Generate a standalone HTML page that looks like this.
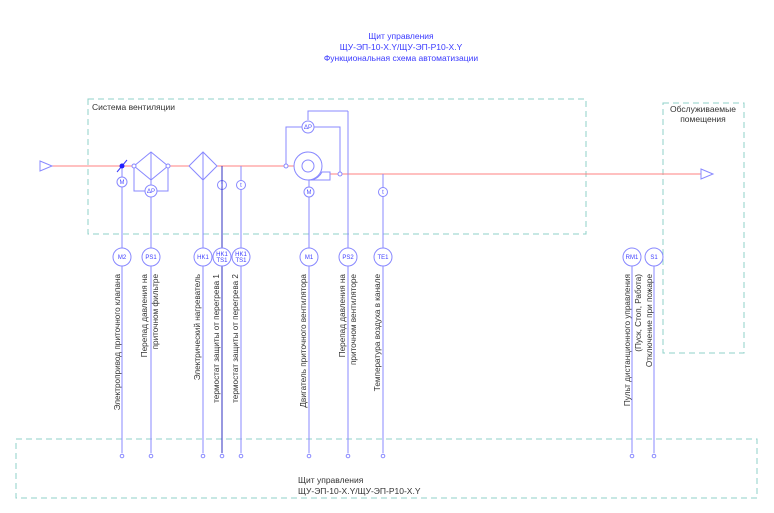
<!DOCTYPE html>
<html><head><meta charset="utf-8"><style>body{margin:0;background:#fff}svg{display:block}</style></head><body>
<svg width="774" height="513" xmlns="http://www.w3.org/2000/svg" font-family="Liberation Sans, DejaVu Sans, sans-serif">
<g fill="#3a3aff" font-size="8.5" text-anchor="middle">
<text x="401" y="39">Щит управления</text>
<text x="401" y="50">ЩУ-ЭП-10-X.Y/ЩУ-ЭП-P10-X.Y</text>
<text x="401" y="61">Функциональная схема автоматизации</text>
</g>
<g fill="none" stroke="#8fd0c8" stroke-dasharray="6,4" stroke-width="1">
<rect x="88" y="99" width="498" height="135"/>
<rect x="663" y="103" width="81" height="250"/>
<rect x="16" y="439" width="741" height="59"/>
</g>
<g font-size="8.5" fill="#333">
<text x="92" y="110">Система вентиляции</text>
<text x="703" y="112" text-anchor="middle">Обслуживаемые</text>
<text x="703" y="122" text-anchor="middle">помещения</text>
<text x="298" y="483">Щит управления</text>
<text x="298" y="494">ЩУ-ЭП-10-X.Y/ЩУ-ЭП-P10-X.Y</text>
</g>
<g stroke="#ff8080" stroke-width="1" fill="none">
<line x1="40" y1="166" x2="300" y2="166"/>
<line x1="328" y1="174" x2="702" y2="174"/>
</g>
<g stroke="#8888ff" stroke-width="1" fill="#fff">
<polygon points="40,161 52,166 40,171"/>
<polygon points="701,169 713,174 701,179"/>
<line x1="122" y1="166" x2="122" y2="453"/>
<line x1="151" y1="180" x2="151" y2="453"/>
<line x1="203" y1="180" x2="203" y2="453"/>
<line x1="241" y1="166" x2="241" y2="453"/>
<line x1="309" y1="180" x2="309" y2="453"/>
<line x1="348" y1="111" x2="348" y2="453"/>
<line x1="383" y1="174" x2="383" y2="453"/>
<line x1="632" y1="266" x2="632" y2="453"/>
<line x1="654" y1="266" x2="654" y2="453"/>
<polygon points="134,166 151,152 168,166 151,180"/>
<line x1="151" y1="152" x2="151" y2="180"/>
<polyline points="134,166 134,191 168,191 168,166" fill="none"/>
<polygon points="189,166 203,152 217,166 203,180"/>
<line x1="203" y1="152" x2="203" y2="180"/>
<path d="M308,152 A14,14 0 1 0 322,172 L330,172 L330,180 L308,180" />
<circle cx="308" cy="166" r="14"/>
<circle cx="308" cy="166" r="6"/>
<polyline points="286,166 286,127 340,127 340,174" fill="none"/>
<polyline points="308,120 308,111 348,111" fill="none"/>
<circle cx="134" cy="166" r="2"/><circle cx="168" cy="166" r="2"/>
<circle cx="286" cy="166" r="2"/><circle cx="340" cy="174" r="2"/>
<circle cx="122" cy="182" r="5"/>
<circle cx="151" cy="191" r="6"/>
<circle cx="222" cy="185" r="4.5"/>
<circle cx="241" cy="185" r="4.5"/>
<circle cx="308" cy="127" r="6"/>
<circle cx="309" cy="192" r="5"/>
<circle cx="383" cy="192" r="4.5"/>
</g>
<line x1="222" y1="166" x2="222" y2="453" stroke="#3030c0" stroke-width="1"/>
<line x1="117" y1="172" x2="127" y2="160" stroke="#3a3aff"/>
<circle cx="122" cy="166" r="2.5" fill="#2020ff"/>
<g font-size="6" fill="#5050ff" text-anchor="middle">
<text x="122" y="184">M</text><text x="151" y="193">ΔP</text><text x="308" y="129">ΔP</text>
<text x="309" y="194">M</text><text x="222" y="187">t</text><text x="241" y="187">t</text><text x="383" y="194">t</text>
</g>
<g stroke="#8888ff" fill="#fff">
<circle cx="122" cy="257" r="9"/><circle cx="151" cy="257" r="9"/><circle cx="203" cy="257" r="9"/>
<circle cx="222" cy="257" r="9"/><circle cx="241" cy="257" r="9"/><circle cx="309" cy="257" r="9"/>
<circle cx="348" cy="257" r="9"/><circle cx="383" cy="257" r="9"/><circle cx="632" cy="257" r="9"/><circle cx="654" cy="257" r="9"/>
<circle cx="122" cy="456" r="1.8"/><circle cx="151" cy="456" r="1.8"/><circle cx="203" cy="456" r="1.8"/>
<circle cx="222" cy="456" r="1.8"/><circle cx="241" cy="456" r="1.8"/><circle cx="309" cy="456" r="1.8"/>
<circle cx="348" cy="456" r="1.8"/><circle cx="383" cy="456" r="1.8"/><circle cx="632" cy="456" r="1.8"/><circle cx="654" cy="456" r="1.8"/>
</g>
<g font-size="6" fill="#4040ff" text-anchor="middle">
<text x="122" y="259">M2</text><text x="151" y="259">PS1</text><text x="203" y="259">HK1</text>
<text x="222" y="256">HK1</text><text x="222" y="262">TS1</text><text x="241" y="256">HK1</text><text x="241" y="262">TS1</text>
<text x="309" y="259">M1</text><text x="348" y="259">PS2</text><text x="383" y="259">TE1</text>
<text x="632" y="259">RM1</text><text x="654" y="259">S1</text>
</g>
<g font-size="8.2" fill="#333" text-anchor="end">
<text transform="translate(120,274) rotate(-90)">Электропривод приточного клапана</text>
<text transform="translate(147,274) rotate(-90)">Перепад давления на</text>
<text transform="translate(158,274) rotate(-90)">приточном фильтре</text>
<text transform="translate(200,274) rotate(-90)">Электрический нагреватель</text>
<text transform="translate(219,274) rotate(-90)">термостат защиты от перегрева 1</text>
<text transform="translate(238,274) rotate(-90)">термостат защиты от перегрева 2</text>
<text transform="translate(306,274) rotate(-90)">Двигатель приточного вентилятора</text>
<text transform="translate(345,274) rotate(-90)">Перепад давления на</text>
<text transform="translate(356,274) rotate(-90)">приточном вентиляторе</text>
<text transform="translate(380,274) rotate(-90)">Температура воздуха в канале</text>
<text transform="translate(630,274) rotate(-90)">Пульт дистанционного управления</text>
<text transform="translate(641,274) rotate(-90)">(Пуск, Стоп, Работа)</text>
<text transform="translate(652,274) rotate(-90)">Отключение при пожаре</text>
</g>
</svg>
</body></html>
